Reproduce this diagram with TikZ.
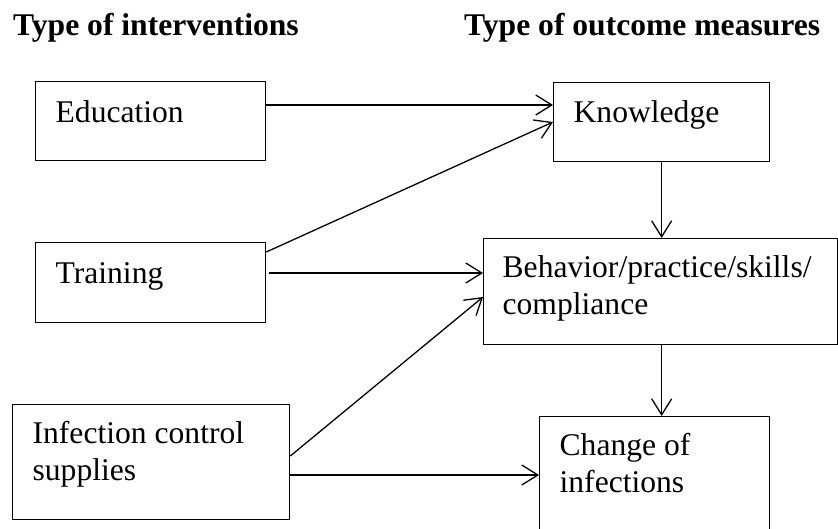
\documentclass[tikz,border=0pt]{standalone}
\usepackage{fontspec}
\setmainfont{Liberation Serif}
\usepackage{tikz}
\usetikzlibrary{arrows.meta}

\newcommand{\bodysize}{\fontsize{31.6pt}{37pt}\selectfont}

\tikzset{
  box/.style={draw, line width=1.3pt, anchor=north west, align=flush left,
    inner xsep=20pt, inner ysep=0pt, text width=#1},
  box/.default=190pt,
  arr/.style={line width=1.3pt, -{Straight Barb[length=16pt,width=20pt,line width=1.3pt]}},
  title/.style={anchor=base west, inner sep=0pt, font=\bodysize\bfseries}
}

\begin{document}
\begin{tikzpicture}[x=1pt, y=-1pt, font=\bodysize]

  \useasboundingbox (0,0) rectangle (838,529);
  \clip (0,0) rectangle (838,529);

  % titles
  \node[title] (tint) at (13,36)  {Type of interventions}; %
  \node[title] (tout) at (464,36) {Type of outcome measures}; %

  % interventions
  \node[box, text height=41pt, text depth=38pt] (edu) at (35,81)  {Education}; %
  \node[box, text height=41pt, text depth=39pt] (tra) at (35,242) {Training}; %
  \node[box=237pt, text height=39pt, text depth=76pt] (inf) at (12,404) {Infection control\\supplies}; %

  % outcomes
  \node[box=176pt, text height=40pt, text depth=39pt] (kno) at (553,82) {Knowledge}; %
  \node[box=316pt, text height=39pt, text depth=67pt, inner xsep=19pt] (beh) at (483,238) {Behavior/practice/skills/\\compliance}; %
  \node[box, text height=39pt, text depth=130pt] (cha) at (539,416) {Change of\\infections}; %

  % edges
  \draw[arr] ([yshift=-24pt]edu.north east) -- ([yshift=-24pt]edu.north east -| kno.west); %
  \draw[arr] ([yshift=-10pt]tra.north east) -- ([yshift=-40pt]kno.north west); %
  \draw[arr] ([xshift=3pt,yshift=-31pt]tra.north east) -- ([yshift=-31pt]tra.north east -| beh.west); %
  \draw[arr] ([yshift=-52pt]inf.north east) -- ([yshift=-59pt]beh.north west); %
  \draw[arr] ([yshift=-71pt]inf.north east) -- ([yshift=-71pt]inf.north east -| cha.west); %
  \draw[arr] (kno.south) -- (kno.south |- beh.north); %
  \draw[arr] (beh.south -| kno.south) -- (cha.north -| kno.south); %

\end{tikzpicture}
\end{document}
